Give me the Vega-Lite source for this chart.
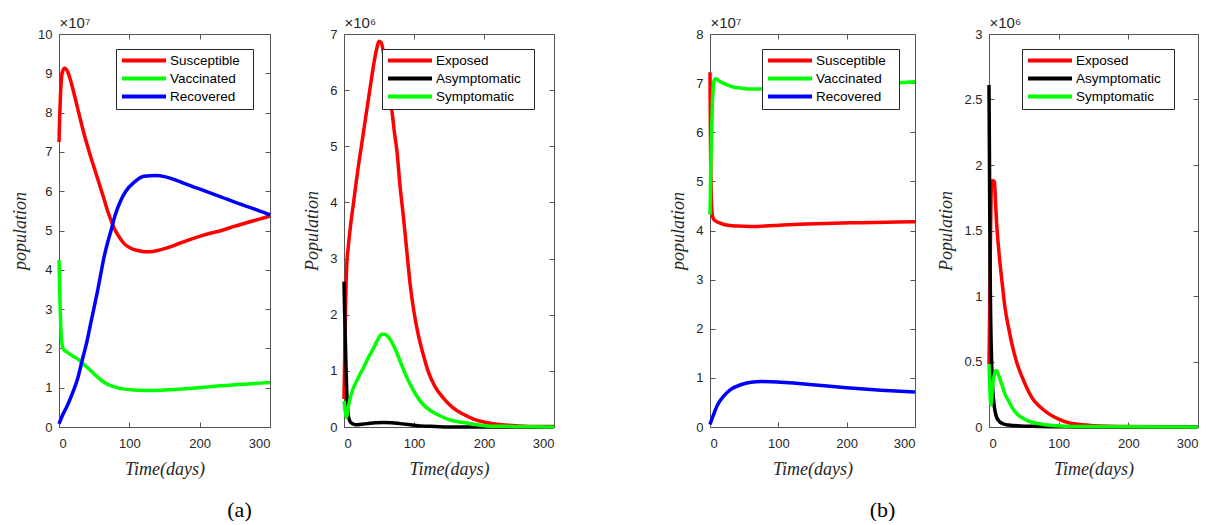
{
  "$schema": "https://vega.github.io/schema/vega-lite/v6.json",
  "background": "white",
  "padding": {"left": 11, "top": 15, "right": 0, "bottom": 0},
  "spacing": 74,
  "bounds": "flush",
  "datasets": {
    "p1": [
      {"s":"Susceptible","t":0,"v":7.25},{"s":"Susceptible","t":1,"v":7.9},{"s":"Susceptible","t":2,"v":8.4},{"s":"Susceptible","t":3,"v":8.75},{"s":"Susceptible","t":5,"v":9.05},{"s":"Susceptible","t":8,"v":9.13},{"s":"Susceptible","t":12,"v":9.05},{"s":"Susceptible","t":16,"v":8.85},{"s":"Susceptible","t":20,"v":8.58},{"s":"Susceptible","t":28,"v":8.0},{"s":"Susceptible","t":35,"v":7.5},{"s":"Susceptible","t":43,"v":7.0},{"s":"Susceptible","t":50,"v":6.6},{"s":"Susceptible","t":57,"v":6.2},{"s":"Susceptible","t":64,"v":5.8},{"s":"Susceptible","t":70,"v":5.45},{"s":"Susceptible","t":79,"v":5.04},{"s":"Susceptible","t":86,"v":4.82},{"s":"Susceptible","t":93,"v":4.66},{"s":"Susceptible","t":102,"v":4.55},{"s":"Susceptible","t":112,"v":4.49},{"s":"Susceptible","t":122,"v":4.46},{"s":"Susceptible","t":130,"v":4.46},{"s":"Susceptible","t":140,"v":4.49},{"s":"Susceptible","t":150,"v":4.54},{"s":"Susceptible","t":165,"v":4.63},{"s":"Susceptible","t":183,"v":4.75},{"s":"Susceptible","t":200,"v":4.85},{"s":"Susceptible","t":215,"v":4.93},{"s":"Susceptible","t":231,"v":5.0},{"s":"Susceptible","t":250,"v":5.11},{"s":"Susceptible","t":269,"v":5.21},{"s":"Susceptible","t":285,"v":5.29},{"s":"Susceptible","t":300,"v":5.37},
      {"s":"Vaccinated","t":0,"v":4.25},{"s":"Vaccinated","t":0.7,"v":3.8},{"s":"Vaccinated","t":1.4,"v":3.2},{"s":"Vaccinated","t":2.3,"v":2.7},{"s":"Vaccinated","t":3.3,"v":2.29},{"s":"Vaccinated","t":5,"v":2.05},{"s":"Vaccinated","t":7,"v":1.97},{"s":"Vaccinated","t":12,"v":1.9},{"s":"Vaccinated","t":20,"v":1.8},{"s":"Vaccinated","t":26,"v":1.74},{"s":"Vaccinated","t":33,"v":1.63},{"s":"Vaccinated","t":40,"v":1.52},{"s":"Vaccinated","t":50,"v":1.35},{"s":"Vaccinated","t":60,"v":1.19},{"s":"Vaccinated","t":70,"v":1.08},{"s":"Vaccinated","t":79,"v":1.02},{"s":"Vaccinated","t":90,"v":0.97},{"s":"Vaccinated","t":102,"v":0.95},{"s":"Vaccinated","t":115,"v":0.935},{"s":"Vaccinated","t":131,"v":0.93},{"s":"Vaccinated","t":145,"v":0.935},{"s":"Vaccinated","t":160,"v":0.95},{"s":"Vaccinated","t":185,"v":0.98},{"s":"Vaccinated","t":207,"v":1.01},{"s":"Vaccinated","t":230,"v":1.05},{"s":"Vaccinated","t":255,"v":1.08},{"s":"Vaccinated","t":280,"v":1.11},{"s":"Vaccinated","t":300,"v":1.13},
      {"s":"Recovered","t":0,"v":0.08},{"s":"Recovered","t":5,"v":0.3},{"s":"Recovered","t":12,"v":0.55},{"s":"Recovered","t":20,"v":0.9},{"s":"Recovered","t":26,"v":1.2},{"s":"Recovered","t":33,"v":1.7},{"s":"Recovered","t":40,"v":2.2},{"s":"Recovered","t":45,"v":2.63},{"s":"Recovered","t":50,"v":3.05},{"s":"Recovered","t":55,"v":3.48},{"s":"Recovered","t":60,"v":3.95},{"s":"Recovered","t":64,"v":4.32},{"s":"Recovered","t":70,"v":4.75},{"s":"Recovered","t":74,"v":5.0},{"s":"Recovered","t":80,"v":5.4},{"s":"Recovered","t":88,"v":5.77},{"s":"Recovered","t":95,"v":6.0},{"s":"Recovered","t":107,"v":6.23},{"s":"Recovered","t":121,"v":6.38},{"s":"Recovered","t":138,"v":6.4},{"s":"Recovered","t":150,"v":6.37},{"s":"Recovered","t":160,"v":6.32},{"s":"Recovered","t":175,"v":6.22},{"s":"Recovered","t":193,"v":6.1},{"s":"Recovered","t":210,"v":5.99},{"s":"Recovered","t":231,"v":5.85},{"s":"Recovered","t":250,"v":5.72},{"s":"Recovered","t":269,"v":5.6},{"s":"Recovered","t":285,"v":5.5},{"s":"Recovered","t":300,"v":5.4}
    ],
    "p2": [
      {"s":"Exposed","t":0,"v":0.5},{"s":"Exposed","t":1,"v":1.3},{"s":"Exposed","t":2,"v":2.0},{"s":"Exposed","t":3,"v":2.55},{"s":"Exposed","t":4,"v":2.9},{"s":"Exposed","t":6,"v":3.2},{"s":"Exposed","t":9,"v":3.55},{"s":"Exposed","t":14,"v":4.03},{"s":"Exposed","t":20,"v":4.6},{"s":"Exposed","t":26,"v":5.1},{"s":"Exposed","t":32,"v":5.6},{"s":"Exposed","t":38,"v":6.1},{"s":"Exposed","t":43,"v":6.5},{"s":"Exposed","t":47,"v":6.75},{"s":"Exposed","t":50,"v":6.87},{"s":"Exposed","t":53,"v":6.85},{"s":"Exposed","t":56,"v":6.7},{"s":"Exposed","t":60,"v":6.35},{"s":"Exposed","t":64,"v":6.0},{"s":"Exposed","t":68.5,"v":5.63},{"s":"Exposed","t":72,"v":5.25},{"s":"Exposed","t":75.6,"v":4.92},{"s":"Exposed","t":80,"v":4.3},{"s":"Exposed","t":85,"v":3.73},{"s":"Exposed","t":90,"v":3.1},{"s":"Exposed","t":94.5,"v":2.54},{"s":"Exposed","t":100,"v":2.05},{"s":"Exposed","t":106,"v":1.65},{"s":"Exposed","t":113,"v":1.3},{"s":"Exposed","t":120,"v":1.0},{"s":"Exposed","t":130,"v":0.72},{"s":"Exposed","t":141.7,"v":0.52},{"s":"Exposed","t":155,"v":0.35},{"s":"Exposed","t":170,"v":0.23},{"s":"Exposed","t":185,"v":0.14},{"s":"Exposed","t":203,"v":0.08},{"s":"Exposed","t":225,"v":0.04},{"s":"Exposed","t":250,"v":0.02},{"s":"Exposed","t":275,"v":0.01},{"s":"Exposed","t":300,"v":0.01},
      {"s":"Asymptomatic","t":0,"v":2.59},{"s":"Asymptomatic","t":1,"v":2.0},{"s":"Asymptomatic","t":2.3,"v":1.35},{"s":"Asymptomatic","t":3.5,"v":0.8},{"s":"Asymptomatic","t":4.7,"v":0.4},{"s":"Asymptomatic","t":6,"v":0.22},{"s":"Asymptomatic","t":8.5,"v":0.1},{"s":"Asymptomatic","t":12,"v":0.06},{"s":"Asymptomatic","t":16.5,"v":0.04},{"s":"Asymptomatic","t":25,"v":0.05},{"s":"Asymptomatic","t":33,"v":0.06},{"s":"Asymptomatic","t":45,"v":0.075},{"s":"Asymptomatic","t":57,"v":0.08},{"s":"Asymptomatic","t":68,"v":0.075},{"s":"Asymptomatic","t":80,"v":0.06},{"s":"Asymptomatic","t":95,"v":0.04},{"s":"Asymptomatic","t":109,"v":0.02},{"s":"Asymptomatic","t":130,"v":0.01},{"s":"Asymptomatic","t":156,"v":0.0},{"s":"Asymptomatic","t":200,"v":0},{"s":"Asymptomatic","t":300,"v":0},
      {"s":"Symptomatic","t":0,"v":0.46},{"s":"Symptomatic","t":1.5,"v":0.3},{"s":"Symptomatic","t":3.7,"v":0.17},{"s":"Symptomatic","t":6,"v":0.35},{"s":"Symptomatic","t":9,"v":0.52},{"s":"Symptomatic","t":11.8,"v":0.64},{"s":"Symptomatic","t":20,"v":0.87},{"s":"Symptomatic","t":28,"v":1.06},{"s":"Symptomatic","t":35,"v":1.24},{"s":"Symptomatic","t":42.5,"v":1.41},{"s":"Symptomatic","t":48,"v":1.55},{"s":"Symptomatic","t":54,"v":1.65},{"s":"Symptomatic","t":58,"v":1.65},{"s":"Symptomatic","t":62,"v":1.62},{"s":"Symptomatic","t":66,"v":1.56},{"s":"Symptomatic","t":72,"v":1.42},{"s":"Symptomatic","t":80,"v":1.18},{"s":"Symptomatic","t":87,"v":0.96},{"s":"Symptomatic","t":94.5,"v":0.76},{"s":"Symptomatic","t":103,"v":0.57},{"s":"Symptomatic","t":113,"v":0.4},{"s":"Symptomatic","t":125,"v":0.28},{"s":"Symptomatic","t":137,"v":0.2},{"s":"Symptomatic","t":150,"v":0.13},{"s":"Symptomatic","t":170,"v":0.08},{"s":"Symptomatic","t":185,"v":0.05},{"s":"Symptomatic","t":203,"v":0.02},{"s":"Symptomatic","t":240,"v":0.01},{"s":"Symptomatic","t":300,"v":0}
    ],
    "p3": [
      {"s":"Susceptible","t":0,"v":7.22},{"s":"Susceptible","t":0.5,"v":6.2},{"s":"Susceptible","t":1,"v":5.4},{"s":"Susceptible","t":1.8,"v":4.7},{"s":"Susceptible","t":2.8,"v":4.4},{"s":"Susceptible","t":3.9,"v":4.28},{"s":"Susceptible","t":6,"v":4.22},{"s":"Susceptible","t":10,"v":4.18},{"s":"Susceptible","t":17,"v":4.14},{"s":"Susceptible","t":24,"v":4.11},{"s":"Susceptible","t":40,"v":4.09},{"s":"Susceptible","t":58.5,"v":4.08},{"s":"Susceptible","t":80,"v":4.09},{"s":"Susceptible","t":107,"v":4.11},{"s":"Susceptible","t":140,"v":4.13},{"s":"Susceptible","t":180,"v":4.15},{"s":"Susceptible","t":220,"v":4.16},{"s":"Susceptible","t":260,"v":4.17},{"s":"Susceptible","t":300,"v":4.18},
      {"s":"Vaccinated","t":0,"v":4.32},{"s":"Vaccinated","t":0.8,"v":5.0},{"s":"Vaccinated","t":1.6,"v":5.6},{"s":"Vaccinated","t":2.4,"v":6.05},{"s":"Vaccinated","t":3.5,"v":6.6},{"s":"Vaccinated","t":4.7,"v":6.9},{"s":"Vaccinated","t":5.9,"v":7.05},{"s":"Vaccinated","t":8,"v":7.09},{"s":"Vaccinated","t":10,"v":7.08},{"s":"Vaccinated","t":14,"v":7.04},{"s":"Vaccinated","t":19.5,"v":7.0},{"s":"Vaccinated","t":26,"v":6.96},{"s":"Vaccinated","t":34,"v":6.92},{"s":"Vaccinated","t":45,"v":6.9},{"s":"Vaccinated","t":58.5,"v":6.88},{"s":"Vaccinated","t":80,"v":6.88},{"s":"Vaccinated","t":110,"v":6.9},{"s":"Vaccinated","t":150,"v":6.93},{"s":"Vaccinated","t":200,"v":6.96},{"s":"Vaccinated","t":250,"v":6.99},{"s":"Vaccinated","t":275,"v":7.01},{"s":"Vaccinated","t":300,"v":7.03},
      {"s":"Recovered","t":0,"v":0.05},{"s":"Recovered","t":3,"v":0.17},{"s":"Recovered","t":6,"v":0.28},{"s":"Recovered","t":10,"v":0.42},{"s":"Recovered","t":15,"v":0.54},{"s":"Recovered","t":20,"v":0.63},{"s":"Recovered","t":30,"v":0.76},{"s":"Recovered","t":45,"v":0.86},{"s":"Recovered","t":60,"v":0.91},{"s":"Recovered","t":75,"v":0.925},{"s":"Recovered","t":90,"v":0.92},{"s":"Recovered","t":110,"v":0.905},{"s":"Recovered","t":150,"v":0.86},{"s":"Recovered","t":200,"v":0.8},{"s":"Recovered","t":250,"v":0.75},{"s":"Recovered","t":300,"v":0.71}
    ],
    "p4": [
      {"s":"Exposed","t":0,"v":0.48},{"s":"Exposed","t":1,"v":0.9},{"s":"Exposed","t":2,"v":1.4},{"s":"Exposed","t":3,"v":1.75},{"s":"Exposed","t":3.9,"v":1.88},{"s":"Exposed","t":6,"v":1.88},{"s":"Exposed","t":7.8,"v":1.87},{"s":"Exposed","t":9.5,"v":1.7},{"s":"Exposed","t":11,"v":1.55},{"s":"Exposed","t":13.5,"v":1.38},{"s":"Exposed","t":16,"v":1.24},{"s":"Exposed","t":19.5,"v":1.07},{"s":"Exposed","t":23,"v":0.91},{"s":"Exposed","t":28,"v":0.76},{"s":"Exposed","t":33,"v":0.63},{"s":"Exposed","t":40,"v":0.49},{"s":"Exposed","t":47.6,"v":0.38},{"s":"Exposed","t":55,"v":0.29},{"s":"Exposed","t":62,"v":0.22},{"s":"Exposed","t":72,"v":0.16},{"s":"Exposed","t":86,"v":0.1},{"s":"Exposed","t":100,"v":0.06},{"s":"Exposed","t":115.5,"v":0.03},{"s":"Exposed","t":150,"v":0.01},{"s":"Exposed","t":200,"v":0.003},{"s":"Exposed","t":300,"v":0},
      {"s":"Asymptomatic","t":0,"v":2.61},{"s":"Asymptomatic","t":0.7,"v":2.0},{"s":"Asymptomatic","t":1.5,"v":1.24},{"s":"Asymptomatic","t":2.5,"v":0.8},{"s":"Asymptomatic","t":3.9,"v":0.48},{"s":"Asymptomatic","t":5.5,"v":0.28},{"s":"Asymptomatic","t":7.8,"v":0.15},{"s":"Asymptomatic","t":10,"v":0.09},{"s":"Asymptomatic","t":13.6,"v":0.05},{"s":"Asymptomatic","t":20,"v":0.025},{"s":"Asymptomatic","t":28,"v":0.015},{"s":"Asymptomatic","t":45,"v":0.008},{"s":"Asymptomatic","t":62,"v":0.005},{"s":"Asymptomatic","t":100,"v":0.002},{"s":"Asymptomatic","t":135,"v":0},{"s":"Asymptomatic","t":300,"v":0},
      {"s":"Symptomatic","t":0,"v":0.48},{"s":"Symptomatic","t":1,"v":0.33},{"s":"Symptomatic","t":2,"v":0.2},{"s":"Symptomatic","t":2.9,"v":0.17},{"s":"Symptomatic","t":4,"v":0.22},{"s":"Symptomatic","t":5.5,"v":0.33},{"s":"Symptomatic","t":7.8,"v":0.4},{"s":"Symptomatic","t":9.5,"v":0.43},{"s":"Symptomatic","t":11,"v":0.43},{"s":"Symptomatic","t":13.5,"v":0.4},{"s":"Symptomatic","t":16,"v":0.36},{"s":"Symptomatic","t":20,"v":0.3},{"s":"Symptomatic","t":23,"v":0.25},{"s":"Symptomatic","t":28,"v":0.2},{"s":"Symptomatic","t":33,"v":0.15},{"s":"Symptomatic","t":40,"v":0.1},{"s":"Symptomatic","t":47.6,"v":0.07},{"s":"Symptomatic","t":57,"v":0.045},{"s":"Symptomatic","t":67,"v":0.03},{"s":"Symptomatic","t":80,"v":0.018},{"s":"Symptomatic","t":96,"v":0.01},{"s":"Symptomatic","t":130,"v":0.004},{"s":"Symptomatic","t":200,"v":0.001},{"s":"Symptomatic","t":300,"v":0}
    ]
  },
  "hconcat": [
    {
      "width": 211, "height": 393,
      "data": {"name": "p1"},
      "title": {"text": "(a)", "orient": "bottom", "anchor": "middle", "dx": 75, "offset": 22},
      "layer": [
        {"mark": {"type": "line", "strokeWidth": 3.5, "interpolate": "monotone"},
         "encoding": {
           "x": {"field": "t", "type": "quantitative", "scale": {"domain": [0, 300], "nice": false}, "axis": {"values": [0, 100, 200, 300], "title": "Time(days)"}},
           "y": {"field": "v", "type": "quantitative", "scale": {"domain": [0, 10], "nice": false}, "axis": {"values": [0,1,2,3,4,5,6,7,8,9,10], "title": "population"}},
           "color": {"field": "s", "type": "nominal", "scale": {"domain": ["Susceptible", "Vaccinated", "Recovered"], "range": ["#ff0000", "#00ff00", "#0000ff"]}, "legend": {"orient": "none", "legendX": 57, "legendY": 15, "title": "\u00a0", "titleOrient": "right", "titlePadding": 9}}
         }},
        {"mark": {"type": "line", "opacity": 0},
         "encoding": {
           "x": {"field": "t", "type": "quantitative", "axis": {"orient": "top", "values": [0, 100, 200, 300], "labels": false, "title": "×10⁷", "titleFont": "Liberation Sans", "titleFontStyle": "normal", "titleFontSize": 15, "titleAnchor": "start", "titleAlign": "left", "titlePadding": 3}},
           "y": {"field": "v", "type": "quantitative", "axis": {"orient": "right", "values": [0,1,2,3,4,5,6,7,8,9,10], "labels": false, "title": null}}
         }}
      ],
      "resolve": {"axis": {"x": "independent", "y": "independent"}}
    },
    {
      "width": 210, "height": 393,
      "data": {"name": "p2"},
      "layer": [
        {"mark": {"type": "line", "strokeWidth": 3.5, "interpolate": "monotone"},
         "encoding": {
           "x": {"field": "t", "type": "quantitative", "scale": {"domain": [0, 300], "nice": false}, "axis": {"values": [0, 100, 200, 300], "title": "Time(days)"}},
           "y": {"field": "v", "type": "quantitative", "scale": {"domain": [0, 7], "nice": false}, "axis": {"values": [0,1,2,3,4,5,6,7], "title": "Population"}},
           "color": {"field": "s", "type": "nominal", "scale": {"domain": ["Exposed", "Asymptomatic", "Symptomatic"], "range": ["#ff0000", "#000000", "#00ff00"]}, "legend": {"orient": "none", "legendX": 38, "legendY": 15, "title": "\u00a0", "titleOrient": "right", "titlePadding": 9}}
         }},
        {"mark": {"type": "line", "opacity": 0},
         "encoding": {
           "x": {"field": "t", "type": "quantitative", "axis": {"orient": "top", "values": [0, 100, 200, 300], "labels": false, "title": "×10⁶", "titleFont": "Liberation Sans", "titleFontStyle": "normal", "titleFontSize": 15, "titleAnchor": "start", "titleAlign": "left", "titlePadding": 3}},
           "y": {"field": "v", "type": "quantitative", "axis": {"orient": "right", "values": [0,1,2,3,4,5,6,7], "labels": false, "title": null}}
         }}
      ],
      "resolve": {"axis": {"x": "independent", "y": "independent"}}
    },
    {
      "width": 8, "height": 393,
      "data": {"values": [{"s": "spacer"}]},
      "mark": {"type": "point", "opacity": 0},
      "encoding": {}
    },
    {
      "width": 205, "height": 393,
      "data": {"name": "p3"},
      "title": {"text": "(b)", "orient": "bottom", "anchor": "middle", "dx": 70, "offset": 22},
      "layer": [
        {"mark": {"type": "line", "strokeWidth": 3.5, "interpolate": "monotone"},
         "encoding": {
           "x": {"field": "t", "type": "quantitative", "scale": {"domain": [0, 300], "nice": false}, "axis": {"values": [0, 100, 200, 300], "title": "Time(days)"}},
           "y": {"field": "v", "type": "quantitative", "scale": {"domain": [0, 8], "nice": false}, "axis": {"values": [0,1,2,3,4,5,6,7,8], "title": "population"}},
           "color": {"field": "s", "type": "nominal", "scale": {"domain": ["Susceptible", "Vaccinated", "Recovered"], "range": ["#ff0000", "#00ff00", "#0000ff"]}, "legend": {"orient": "none", "legendX": 52, "legendY": 15, "title": "\u00a0", "titleOrient": "right", "titlePadding": 9}}
         }},
        {"mark": {"type": "line", "opacity": 0},
         "encoding": {
           "x": {"field": "t", "type": "quantitative", "axis": {"orient": "top", "values": [0, 100, 200, 300], "labels": false, "title": "×10⁷", "titleFont": "Liberation Sans", "titleFontStyle": "normal", "titleFontSize": 15, "titleAnchor": "start", "titleAlign": "left", "titlePadding": 3}},
           "y": {"field": "v", "type": "quantitative", "axis": {"orient": "right", "values": [0,1,2,3,4,5,6,7,8], "labels": false, "title": null}}
         }}
      ],
      "resolve": {"axis": {"x": "independent", "y": "independent"}}
    },
    {
      "width": 209, "height": 393,
      "data": {"name": "p4"},
      "layer": [
        {"mark": {"type": "line", "strokeWidth": 3.5, "interpolate": "monotone"},
         "encoding": {
           "x": {"field": "t", "type": "quantitative", "scale": {"domain": [0, 300], "nice": false}, "axis": {"values": [0, 100, 200, 300], "title": "Time(days)"}},
           "y": {"field": "v", "type": "quantitative", "scale": {"domain": [0, 3], "nice": false}, "axis": {"values": [0,0.5,1,1.5,2,2.5,3], "format": "~g", "title": "Population"}},
           "color": {"field": "s", "type": "nominal", "scale": {"domain": ["Exposed", "Asymptomatic", "Symptomatic"], "range": ["#ff0000", "#000000", "#00ff00"]}, "legend": {"orient": "none", "legendX": 33, "legendY": 15, "title": "\u00a0", "titleOrient": "right", "titlePadding": 9}}
         }},
        {"mark": {"type": "line", "opacity": 0},
         "encoding": {
           "x": {"field": "t", "type": "quantitative", "axis": {"orient": "top", "values": [0, 100, 200, 300], "labels": false, "title": "×10⁶", "titleFont": "Liberation Sans", "titleFontStyle": "normal", "titleFontSize": 15, "titleAnchor": "start", "titleAlign": "left", "titlePadding": 3}},
           "y": {"field": "v", "type": "quantitative", "axis": {"orient": "right", "values": [0,0.5,1,1.5,2,2.5,3], "labels": false, "title": null}}
         }}
      ],
      "resolve": {"axis": {"x": "independent", "y": "independent"}}
    }
  ],
  "resolve": {"scale": {"color": "independent"}, "legend": {"color": "independent"}},
  "config": {
    "view": {"stroke": null},
    "axis": {
      "grid": false,
      "domainColor": "#555555",
      "domainWidth": 1,
      "tickColor": "#555555",
      "tickSize": -5,
      "labelPadding": 12,
      "labelColor": "#262626",
      "labelFont": "Liberation Sans",
      "labelFontSize": 13,
      "titleFont": "Liberation Serif",
      "titleFontStyle": "italic",
      "titleFontWeight": "normal",
      "titleFontSize": 18,
      "titleColor": "#262626",
      "titlePadding": 8
    },
    "axisBottom": {"labelPadding": 15, "titlePadding": 10},
    "legend": {
      "symbolType": "M-1,0H7",
      "symbolStrokeWidth": 4,
      "symbolSize": 121,
      "labelFont": "Liberation Sans",
      "labelFontSize": 13.5,
      "labelColor": "#000000",
      "labelOffset": 35,
      "titleFontSize": 8,
      "strokeColor": "#262626",
      "fillColor": "white",
      "padding": 4,
      "rowPadding": 1
    },
    "title": {"font": "Liberation Serif", "fontSize": 22, "fontWeight": "normal", "color": "#000000"}
  }
}
